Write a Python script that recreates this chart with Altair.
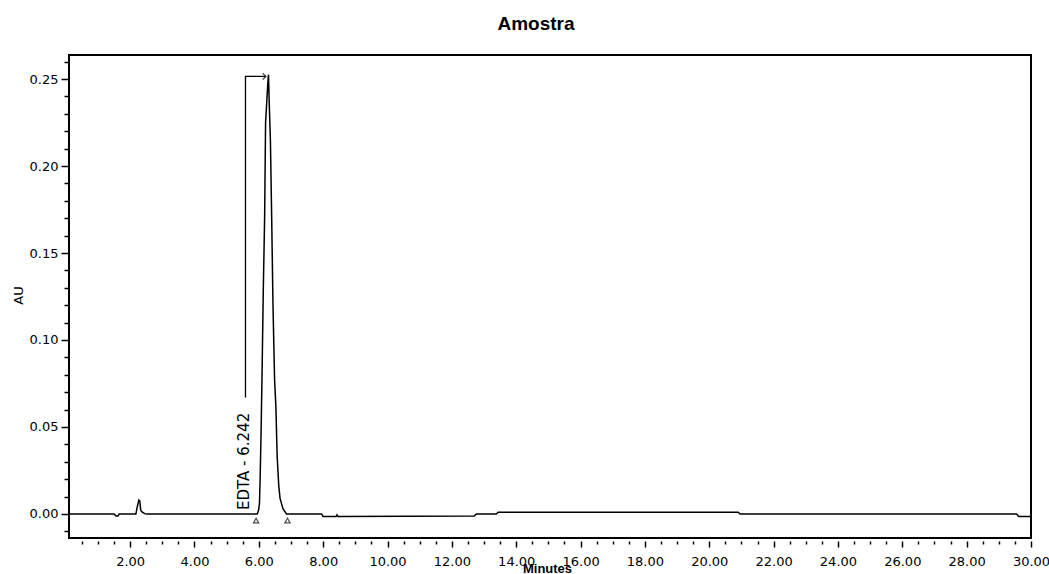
import altair as alt
import pandas as pd

# ---- chromatogram trace (minutes, AU) ----
time_min = [0.10, 1.50, 1.56, 1.62, 1.66, 2.18, 2.22, 2.27, 2.30, 2.33, 2.37, 2.45, 2.52,
            5.95, 5.99, 6.02, 6.04, 6.07, 6.10, 6.14, 6.18, 6.21, 6.25, 6.28, 6.30,
            6.33, 6.36, 6.40, 6.44, 6.49, 6.53, 6.57, 6.62, 6.66, 6.75, 6.86,
            7.95, 8.00, 8.40, 8.43, 8.46, 12.70, 12.76, 13.38, 13.44, 20.90, 20.96,
            29.55, 29.62, 30.00]
au = [0.0, 0.0, -0.0012, -0.0012, 0.0, 0.0, 0.004, 0.008, 0.0075, 0.002, 0.0012, 0.0002, 0.0,
      0.0, 0.002, 0.006, 0.020, 0.047, 0.080, 0.130, 0.170, 0.225, 0.238, 0.248, 0.2525,
      0.232, 0.215, 0.170, 0.120, 0.077, 0.062, 0.033, 0.016, 0.009, 0.003, 0.0,
      0.0, -0.0015, -0.0015, -0.0005, -0.0015, -0.0012, 0.0, 0.0, 0.001, 0.001, 0.0,
      0.0, -0.0015, -0.0015]

# ---- peak annotation ----
peak_label = "EDTA - 6.242"
bracket_t = [5.585, 5.585, 6.22]
bracket_v = [0.067, 0.2515, 0.2515]
arrow_t = [6.22]
arrow_v = [0.2515]
label_t = [5.53]
label_v = [0.0023]
marker_t = [5.915, 6.89]
marker_v = [-0.0038, -0.0038]

# ---- axis ticks ----
x_ticks = [round(0.5 * i, 1) for i in range(1, 61)]
y_ticks = [round(0.01 * i, 2) for i in range(-1, 27)]

title_text = "Amostra"
x_title = "Minutes"
y_title = "AU"

FONT = "DejaVu Sans"

trace_df = pd.DataFrame({"t": time_min, "v": au, "o": list(range(len(time_min)))})
bracket_df = pd.DataFrame({"t": bracket_t, "v": bracket_v, "o": [0, 1, 2]})
arrow_df = pd.DataFrame({"t": arrow_t, "v": arrow_v})
label_df = pd.DataFrame({"t": label_t, "v": label_v, "lab": [peak_label]})
marker_df = pd.DataFrame({"t": marker_t, "v": marker_v})

x_enc = alt.X(
    "t:Q",
    scale=alt.Scale(domain=[0.1, 30.0], nice=False, zero=False),
    axis=alt.Axis(
        values=x_ticks,
        labelExpr="round(datum.value*2) % 4 == 0 ? format(datum.value, '.2f') : ''",
        tickSize={"condition": {"test": "round(datum.value*2) % 4 == 0", "value": 6}, "value": 3},
        tickColor="black",
        tickWidth=1.5,
        offset=3,
        domain=False,
        grid=False,
        labelFont=FONT,
        labelFontSize=13,
        labelColor="black",
        labelPadding=8,
        labelOverlap=False,
        labelFlush=False,
        title=x_title,
        titleFont="Liberation Sans",
        titleFontSize=13,
        titleFontWeight="bold",
        titleColor="black",
        titleX=478,
        titleY=31,
        titleBaseline="alphabetic",
        titleAlign="center",
    ),
)
y_enc = alt.Y(
    "v:Q",
    scale=alt.Scale(domain=[-0.0138, 0.2638], nice=False, zero=False),
    axis=alt.Axis(
        values=y_ticks,
        labelExpr="round(datum.value*100) % 5 == 0 ? format(datum.value, '.2f') : ''",
        tickSize={"condition": {"test": "round(datum.value*100) % 5 == 0", "value": 8}, "value": 5},
        tickColor="black",
        tickWidth=1.5,
        domain=False,
        grid=False,
        labelFont=FONT,
        labelFontSize=13,
        labelColor="black",
        labelPadding=3,
        labelOverlap=False,
        labelFlush=False,
        title=y_title,
        titleFont=FONT,
        titleFontSize=13,
        titleFontWeight="normal",
        titleColor="black",
        titleAngle=270,
        titleX=-51,
        titleY=240,
        titleBaseline="middle",
        titleAlign="center",
    ),
)

trace = alt.Chart(trace_df).mark_line(color="black", strokeWidth=1.5, clip=True).encode(
    x=x_enc, y=y_enc, order="o:Q"
)
bracket = alt.Chart(bracket_df).mark_line(color="black", strokeWidth=1.3).encode(
    x=x_enc, y=y_enc, order="o:Q"
)
arrow = alt.Chart(arrow_df).mark_point(
    shape="M -1 -1 L 0 0 L -1 1", filled=False, color="black", size=40, strokeWidth=1.3
).encode(x=x_enc, y=y_enc)
label = alt.Chart(label_df).mark_text(
    angle=270, align="left", baseline="middle", font=FONT, fontSize=15, color="black"
).encode(x=x_enc, y=y_enc, text="lab:N")
markers = alt.Chart(marker_df).mark_point(
    shape="triangle-up", filled=False, color="black", size=28, strokeWidth=1.2
).encode(x=x_enc, y=y_enc)

chart = alt.layer(trace, bracket, arrow, label, markers).properties(
    width=962,
    height=483,
    title=alt.TitleParams(
        text=title_text,
        font="Liberation Sans",
        fontSize=19,
        fontWeight="bold",
        color="black",
        anchor="middle",
        frame="group",
        dx=-14,
        dy=18,
        offset=24,
        baseline="alphabetic",
    ),
    autosize=alt.AutoSizeParams(type="none"),
    padding={"left": 69, "top": 55, "right": 18, "bottom": 36},
    background="white",
).configure_view(stroke="black", strokeWidth=2)

chart.save("out.html", embed_options={"renderer": "svg", "actions": False})
